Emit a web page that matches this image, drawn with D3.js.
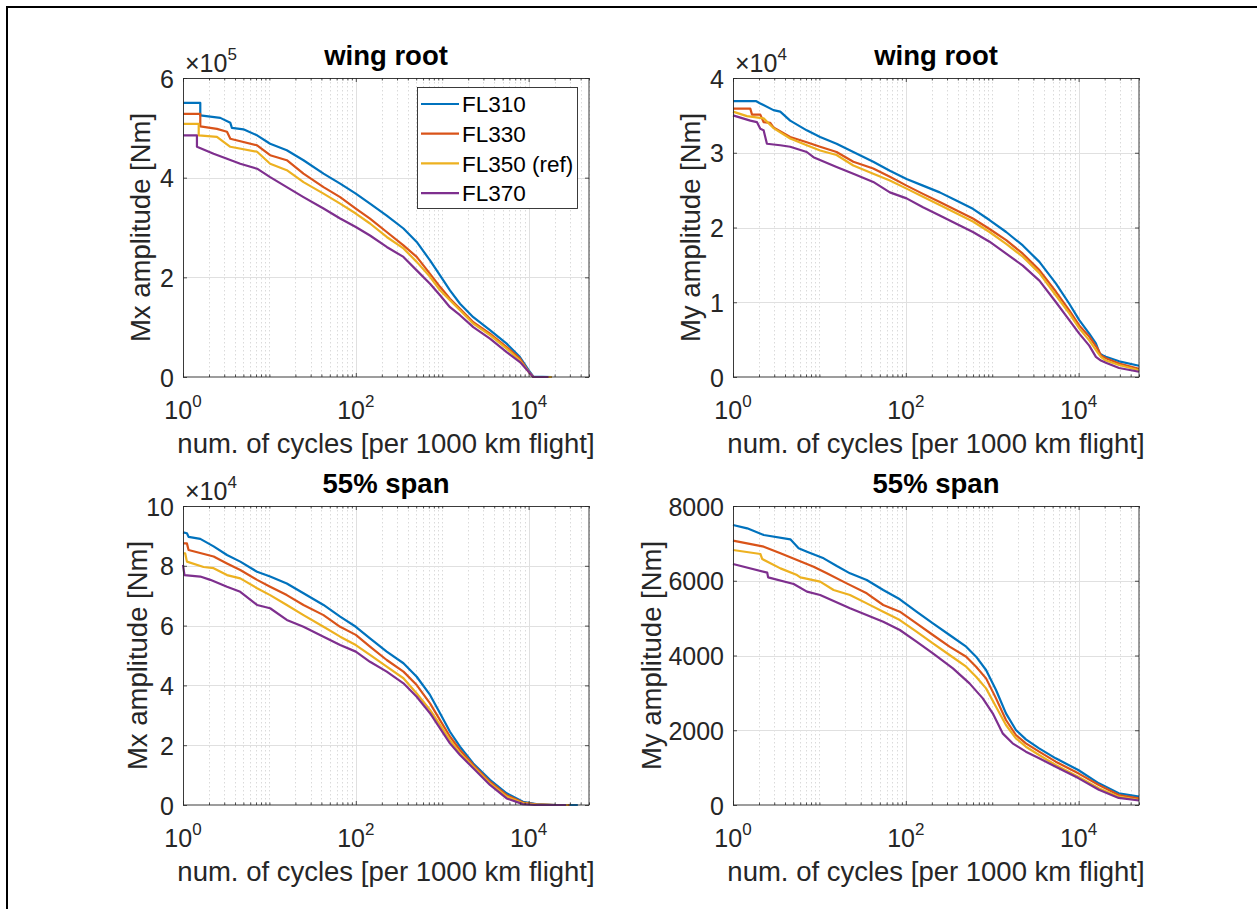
<!DOCTYPE html>
<html><head><meta charset="utf-8">
<script src="https://cdn.jsdelivr.net/npm/d3@7"></script>
<style>body{margin:0;background:#fff}svg{display:block}</style>
</head><body>
<script>
// ---------------- DATA ----------------
const seriesNames = ["FL310", "FL330", "FL350 (ref)", "FL370"];
const seriesColors = ["#0072BD", "#D95319", "#EDB120", "#7E2F8E"];
const xDomain = [1, 5e4];
const xTickValues = [1, 100, 10000];
const xTickExponents = ["0", "2", "4"];

// wing root, Mx [x1e5 Nm]  — [cycles, amplitude]
const rootMx_FL310 = [[1,5.50],[1.585,5.50],[1.585,5.25],[2.70,5.20],[3.53,5.10],[3.68,5.00],[5.0,4.97],[7.2,4.85],[10.2,4.68],[15.9,4.55],[24.8,4.35],[42.3,4.08],[65.9,3.88],[100,3.68],[146,3.48],[228,3.24],[356,2.98],[507,2.71],[723,2.34],[944,2.04],[1230,1.74],[1607,1.47],[2290,1.20],[3572,0.94],[5570,0.67],[7940,0.40],[10090,0.13],[11320,0.01],[18450,0]];
const rootMx_FL330 = [[1,5.28],[1.585,5.28],[1.585,5.03],[2.47,4.98],[3.23,4.92],[3.53,4.78],[7.2,4.65],[10.2,4.45],[15.9,4.35],[24.8,4.08],[42.3,3.81],[65.9,3.61],[100,3.38],[146,3.18],[228,2.91],[356,2.64],[507,2.41],[723,2.07],[944,1.81],[1230,1.57],[1607,1.37],[2290,1.10],[3572,0.87],[5570,0.60],[7940,0.37],[10090,0.10],[11320,0.0],[18450,0]];
const rootMx_FL350 = [[1,5.08],[1.52,5.08],[1.52,4.85],[2.47,4.82],[2.95,4.72],[3.53,4.62],[7.2,4.52],[10.2,4.28],[15.9,4.15],[24.8,3.91],[42.3,3.68],[65.9,3.48],[100,3.28],[146,3.08],[228,2.81],[356,2.58],[507,2.31],[723,2.01],[944,1.74],[1230,1.54],[1607,1.34],[2290,1.07],[3572,0.84],[5570,0.57],[7940,0.33],[10090,0.10],[11320,0.0],[18450,0]];
const rootMx_FL370 = [[1,4.85],[1.45,4.85],[1.45,4.62],[2.26,4.48],[3.23,4.38],[4.6,4.28],[7.2,4.18],[10.2,4.01],[15.9,3.81],[24.8,3.61],[42.3,3.38],[65.9,3.18],[100,3.01],[146,2.84],[228,2.61],[356,2.41],[507,2.14],[723,1.87],[944,1.64],[1230,1.40],[1607,1.24],[2290,1.00],[3572,0.77],[5570,0.50],[7940,0.30],[10090,0.10],[11320,0.0],[17000,0]];

// wing root, My [x1e4 Nm]
const rootMy_FL310 = [[1,3.69],[1.86,3.69],[2.07,3.66],[2.94,3.57],[3.52,3.55],[4.59,3.43],[7.14,3.30],[10.2,3.21],[15.8,3.12],[24.7,3.01],[42.0,2.88],[65.4,2.76],[102,2.65],[158,2.56],[247,2.47],[384,2.36],[598,2.25],[931,2.10],[1451,1.94],[2259,1.76],[3517,1.54],[5474,1.25],[7800,0.98],[10180,0.76],[13280,0.58],[15850,0.45],[17620,0.31],[18920,0.29],[20650,0.27],[29450,0.21],[50000,0.15]];
const rootMy_FL330 = [[1,3.59],[1.585,3.59],[1.66,3.51],[2.07,3.51],[2.26,3.41],[2.70,3.40],[2.94,3.34],[4.59,3.21],[7.14,3.14],[10.2,3.08],[15.8,3.01],[24.7,2.88],[42.0,2.79],[65.4,2.68],[102,2.56],[158,2.45],[247,2.34],[384,2.23],[598,2.12],[931,1.98],[1451,1.83],[2259,1.65],[3517,1.43],[5474,1.14],[7800,0.89],[10180,0.69],[13280,0.54],[16560,0.38],[18110,0.29],[20650,0.25],[29450,0.18],[50000,0.11]];
const rootMy_FL350 = [[1,3.55],[1.45,3.49],[2.26,3.46],[2.94,3.33],[4.59,3.19],[7.14,3.10],[10.2,3.03],[15.8,2.97],[24.7,2.83],[42.0,2.72],[65.4,2.63],[102,2.52],[158,2.41],[247,2.30],[384,2.19],[598,2.08],[931,1.94],[1451,1.78],[2259,1.61],[3517,1.39],[5474,1.09],[7800,0.85],[10180,0.65],[13280,0.49],[16560,0.33],[18110,0.27],[20650,0.22],[29450,0.16],[50000,0.09]];
const rootMy_FL370 = [[1,3.50],[1.585,3.43],[1.89,3.41],[2.07,3.32],[2.26,3.30],[2.47,3.12],[3.52,3.10],[4.59,3.08],[7.14,3.01],[8.53,2.94],[15.8,2.81],[24.7,2.72],[42.0,2.61],[65.4,2.47],[102,2.39],[158,2.27],[247,2.16],[384,2.05],[598,1.94],[931,1.81],[1451,1.65],[2259,1.49],[3517,1.29],[5474,1.00],[7800,0.76],[10180,0.58],[13280,0.42],[15850,0.27],[18110,0.22],[20650,0.19],[29450,0.12],[50000,0.07]];

// 55% span, Mx [x1e4 Nm]
const spanMx_FL310 = [[1,9.12],[1.11,9.09],[1.16,8.97],[1.585,8.9],[2.26,8.65],[3.23,8.36],[4.6,8.14],[7.2,7.80],[10.2,7.64],[15.9,7.41],[24.8,7.08],[42.3,6.69],[65.9,6.30],[100,5.96],[146,5.57],[228,5.13],[356,4.74],[507,4.29],[723,3.68],[944,3.07],[1230,2.45],[1607,1.95],[2290,1.39],[3572,0.84],[5570,0.39],[8610,0.11],[12270,0.03],[20900,0],[37150,0]];
const spanMx_FL330 = [[1,8.75],[1.11,8.75],[1.16,8.53],[2.26,8.31],[3.23,8.08],[4.6,7.86],[7.2,7.53],[10.2,7.30],[15.9,7.02],[24.8,6.69],[42.3,6.35],[65.9,5.96],[100,5.69],[146,5.30],[228,4.85],[356,4.46],[507,4.01],[723,3.40],[944,2.84],[1230,2.29],[1607,1.84],[2290,1.34],[3572,0.78],[5570,0.33],[8610,0.08],[12270,0.02],[20900,0],[29700,0]];
const spanMx_FL350 = [[1,8.42],[1.06,8.42],[1.11,8.14],[1.73,7.96],[2.26,7.92],[3.23,7.69],[4.6,7.58],[7.2,7.25],[10.2,7.02],[15.9,6.69],[24.8,6.35],[42.3,5.96],[65.9,5.63],[100,5.35],[146,5.02],[228,4.63],[356,4.24],[507,3.73],[723,3.18],[944,2.68],[1230,2.17],[1607,1.73],[2290,1.28],[3572,0.72],[5570,0.28],[8610,0.06],[12270,0.01],[20900,0],[28450,0]];
const spanMx_FL370 = [[1,8.03],[1.04,7.69],[1.585,7.64],[2.07,7.53],[3.23,7.30],[4.6,7.13],[7.2,6.69],[10.2,6.58],[15.9,6.19],[24.8,5.96],[42.3,5.63],[65.9,5.35],[100,5.13],[146,4.79],[228,4.46],[356,4.07],[507,3.62],[723,3.07],[944,2.56],[1230,2.06],[1607,1.67],[2290,1.23],[3572,0.67],[5570,0.22],[8610,0.03],[12270,0.0],[27200,0]];

// 55% span, My [Nm]
const spanMy_FL310 = [[1,7492],[1.46,7403],[2.27,7224],[4.61,7108],[5.75,6867],[7.18,6778],[11.2,6600],[15.9,6394],[22.6,6198],[35.3,6020],[54.8,5752],[85.3,5503],[133,5172],[206,4860],[321,4548],[500,4236],[651,3968],[849,3612],[1107,3077],[1443,2453],[1881,2007],[2453,1757],[3491,1516],[5433,1249],[9910,936],[17140,580],[29120,312],[50000,223]];
const spanMy_FL330 = [[1,7072],[2.27,6912],[3.54,6734],[5.51,6555],[8.57,6376],[12.2,6198],[20.7,5930],[35.3,5663],[54.8,5351],[85.3,5172],[133,4860],[206,4548],[321,4236],[500,3968],[651,3700],[849,3388],[1107,2853],[1443,2274],[1881,1873],[2453,1650],[3491,1427],[5433,1159],[9910,847],[17140,535],[29120,268],[50000,178]];
const spanMy_FL350 = [[1,6822],[2.08,6715],[2.18,6581],[3.54,6331],[5.51,6153],[6.02,6090],[10.2,5975],[14.6,5752],[22.6,5618],[35.3,5395],[54.8,5172],[85.3,4949],[133,4637],[206,4325],[321,4013],[500,3700],[651,3433],[849,3121],[1107,2630],[1443,2140],[1881,1783],[2453,1560],[3491,1338],[5433,1070],[9910,758],[17140,446],[29120,223],[50000,134]];
const spanMy_FL370 = [[1,6448],[2.49,6216],[2.55,6090],[5.04,5912],[7.18,5708],[10.2,5618],[22.6,5262],[54.8,4905],[85.3,4682],[133,4370],[206,4058],[351,3656],[546,3254],[778,2853],[1014,2453],[1321,1917],[1722,1650],[2453,1427],[3491,1249],[5433,1025],[9910,720],[17140,410],[29120,190],[50000,120]];

const titles = ["wing root", "wing root", "55% span", "55% span"];
const yLabels = ["Mx amplitude [Nm]", "My amplitude [Nm]", "Mx amplitude [Nm]", "My amplitude [Nm]"];
const yExponents = ["5", "4", "4", null];
const yTicks = [[0,2,4,6], [0,1,2,3,4], [0,2,4,6,8,10], [0,2000,4000,6000,8000]];
const xLabel = "num. of cycles [per 1000 km flight]";

// ---------------- LAYOUT ----------------
const W = 1257, H = 909;
const FONT = "'Liberation Sans', Arial, Helvetica, sans-serif";
const TXT = "#262626";
const panels = [
  {x:183, y:78,  w:406, h:299, ylOff:33, series:[rootMx_FL310, rootMx_FL330, rootMx_FL350, rootMx_FL370], legend:true},
  {x:733, y:78,  w:406, h:299, ylOff:33, series:[rootMy_FL310, rootMy_FL330, rootMy_FL350, rootMy_FL370]},
  {x:183, y:506, w:406, h:299, ylOff:36, series:[spanMx_FL310, spanMx_FL330, spanMx_FL350, spanMx_FL370]},
  {x:733, y:506, w:406, h:299, ylOff:72, series:[spanMy_FL310, spanMy_FL330, spanMy_FL350, spanMy_FL370]}
];

const svg = d3.select("body").append("svg").attr("width", W).attr("height", H)
  .style("font-family", FONT);

// figure frame (top and left edges)
svg.append("line").attr("x1",7).attr("x2",W).attr("y1",7).attr("y2",7).attr("stroke","#000").attr("stroke-width",2);
svg.append("line").attr("x1",7).attr("x2",7).attr("y1",6).attr("y2",H).attr("stroke","#000").attr("stroke-width",2);

// minor x values
const minorX = [];
for (let d = 0; d <= 4; d++) for (let k = 1; k <= 9; k++) {
  const v = k * Math.pow(10, d);
  if (v > xDomain[0] && v <= xDomain[1] && !xTickValues.includes(v)) minorX.push(v);
}

panels.forEach((p, i) => {
  const g = svg.append("g").attr("transform", `translate(${p.x},${p.y})`);
  const x = d3.scaleLog().domain(xDomain).range([0, p.w]);
  const yt = yTicks[i];
  const y = d3.scaleLinear().domain([yt[0], yt[yt.length-1]]).range([p.h, 0]);

  g.append("rect").attr("width", p.w).attr("height", p.h).attr("fill", "#fff");

  // minor grid (dotted)
  g.append("g").selectAll("line").data(minorX).join("line")
    .attr("x1", d => Math.round(x(d)) + 0.5).attr("x2", d => Math.round(x(d)) + 0.5)
    .attr("y1", 0).attr("y2", p.h)
    .attr("stroke", "#dadada").attr("stroke-width", 1).attr("stroke-dasharray", "1.5,2.5");
  // major grid
  g.append("g").selectAll("line").data(xTickValues.slice(1)).join("line")
    .attr("x1", d => Math.round(x(d)) + 0.5).attr("x2", d => Math.round(x(d)) + 0.5)
    .attr("y1", 0).attr("y2", p.h).attr("stroke", "#e0e0e0").attr("stroke-width", 1);
  g.append("g").selectAll("line").data(yt.slice(1, -1)).join("line")
    .attr("x1", 0).attr("x2", p.w)
    .attr("y1", d => Math.round(y(d)) + 0.5).attr("y2", d => Math.round(y(d)) + 0.5)
    .attr("stroke", "#e0e0e0").attr("stroke-width", 1);

  // curves
  const clipId = "clip" + i;
  g.append("clipPath").attr("id", clipId).append("rect").attr("x", -1).attr("y", -1).attr("width", p.w + 2).attr("height", p.h + 2);
  const line = d3.line().x(d => x(d[0])).y(d => y(d[1]));
  g.append("g").attr("clip-path", `url(#${clipId})`).selectAll("path").data(p.series).join("path")
    .attr("d", line).attr("fill", "none")
    .attr("stroke", (d, j) => seriesColors[j]).attr("stroke-width", 2.2)
    .attr("stroke-linejoin", "round");

  // axes (ticks inside)
  g.append("g").attr("transform", `translate(0,${p.h})`)
    .call(d3.axisBottom(x).tickValues(xTickValues).tickSize(-4).tickSizeOuter(0).tickFormat(""));
  g.append("g").call(d3.axisTop(x).tickValues(xTickValues).tickSize(-4).tickSizeOuter(0).tickFormat(""));
  g.append("g").attr("transform", `translate(0,${p.h})`)
    .call(d3.axisBottom(x).tickValues(minorX).tickSize(-2.5).tickSizeOuter(0).tickFormat(""));
  g.append("g").call(d3.axisTop(x).tickValues(minorX).tickSize(-2.5).tickSizeOuter(0).tickFormat(""));
  const axL = g.append("g").call(d3.axisLeft(y).tickValues(yt).tickSize(-4).tickSizeOuter(0).tickPadding(9).tickFormat(d3.format("d")));
  g.append("g").attr("transform", `translate(${p.w},0)`)
    .call(d3.axisRight(y).tickValues(yt).tickSize(-4).tickSizeOuter(0).tickFormat(""));
  g.selectAll(".domain").remove();
  g.selectAll(".tick line").attr("stroke", TXT).attr("stroke-width", 0.8);

  axL.selectAll("text").attr("font-size", 25).attr("fill", TXT).attr("dy", "0.36em")
    .attr("font-family", FONT);

  // x tick labels 10^n
  const xl = g.append("g").attr("transform", `translate(0,${p.h})`);
  xTickValues.forEach((v, k) => {
    const t = xl.append("text").attr("x", x(v)).attr("y", 42).attr("text-anchor", "middle")
      .attr("font-size", 25).attr("fill", TXT);
    t.append("tspan").text("10");
    t.append("tspan").attr("font-size", 17).attr("dy", -12).text(xTickExponents[k]);
  });

  // box
  g.append("rect").attr("x", 0.5).attr("y", 0.5).attr("width", p.w - 0.5).attr("height", p.h - 0.5)
    .attr("fill", "none").attr("stroke", TXT).attr("stroke-width", 0.9);

  // exponent
  if (yExponents[i]) {
    const t = g.append("text").attr("x", 2).attr("y", -6).attr("font-size", 25).attr("fill", TXT);
    t.append("tspan").text("\u00d710");
    t.append("tspan").attr("font-size", 17).attr("dy", -12).text(yExponents[i]);
  }

  // title
  g.append("text").attr("x", p.w / 2).attr("y", -13).attr("text-anchor", "middle")
    .attr("font-size", 27.5).attr("font-weight", "bold").attr("fill", "#000").text(titles[i]);

  // x label
  g.append("text").attr("x", p.w / 2).attr("y", p.h + 76).attr("text-anchor", "middle")
    .attr("font-size", 27.5).attr("fill", TXT).text(xLabel);

  // y label
  g.append("text").attr("transform", `translate(${-p.ylOff},${p.h / 2}) rotate(-90)`)
    .attr("text-anchor", "middle").attr("font-size", 27.5).attr("fill", TXT).text(yLabels[i]);

  // legend
  if (p.legend) {
    const lg = svg.append("g").attr("transform", "translate(417,87)");
    lg.append("rect").attr("x", 0.5).attr("y", 0.5).attr("width", 160).attr("height", 121)
      .attr("fill", "#fff").attr("stroke", TXT).attr("stroke-width", 0.9);
    seriesNames.forEach((n, j) => {
      const cy = 17 + j * 29.7;
      lg.append("line").attr("x1", 4).attr("x2", 42).attr("y1", cy).attr("y2", cy)
        .attr("stroke", seriesColors[j]).attr("stroke-width", 2.2);
      lg.append("text").attr("x", 45).attr("y", cy).attr("dy", "0.36em")
        .attr("font-size", 22.5).attr("fill", "#000").text(n);
    });
  }
});
</script>
</body></html>
